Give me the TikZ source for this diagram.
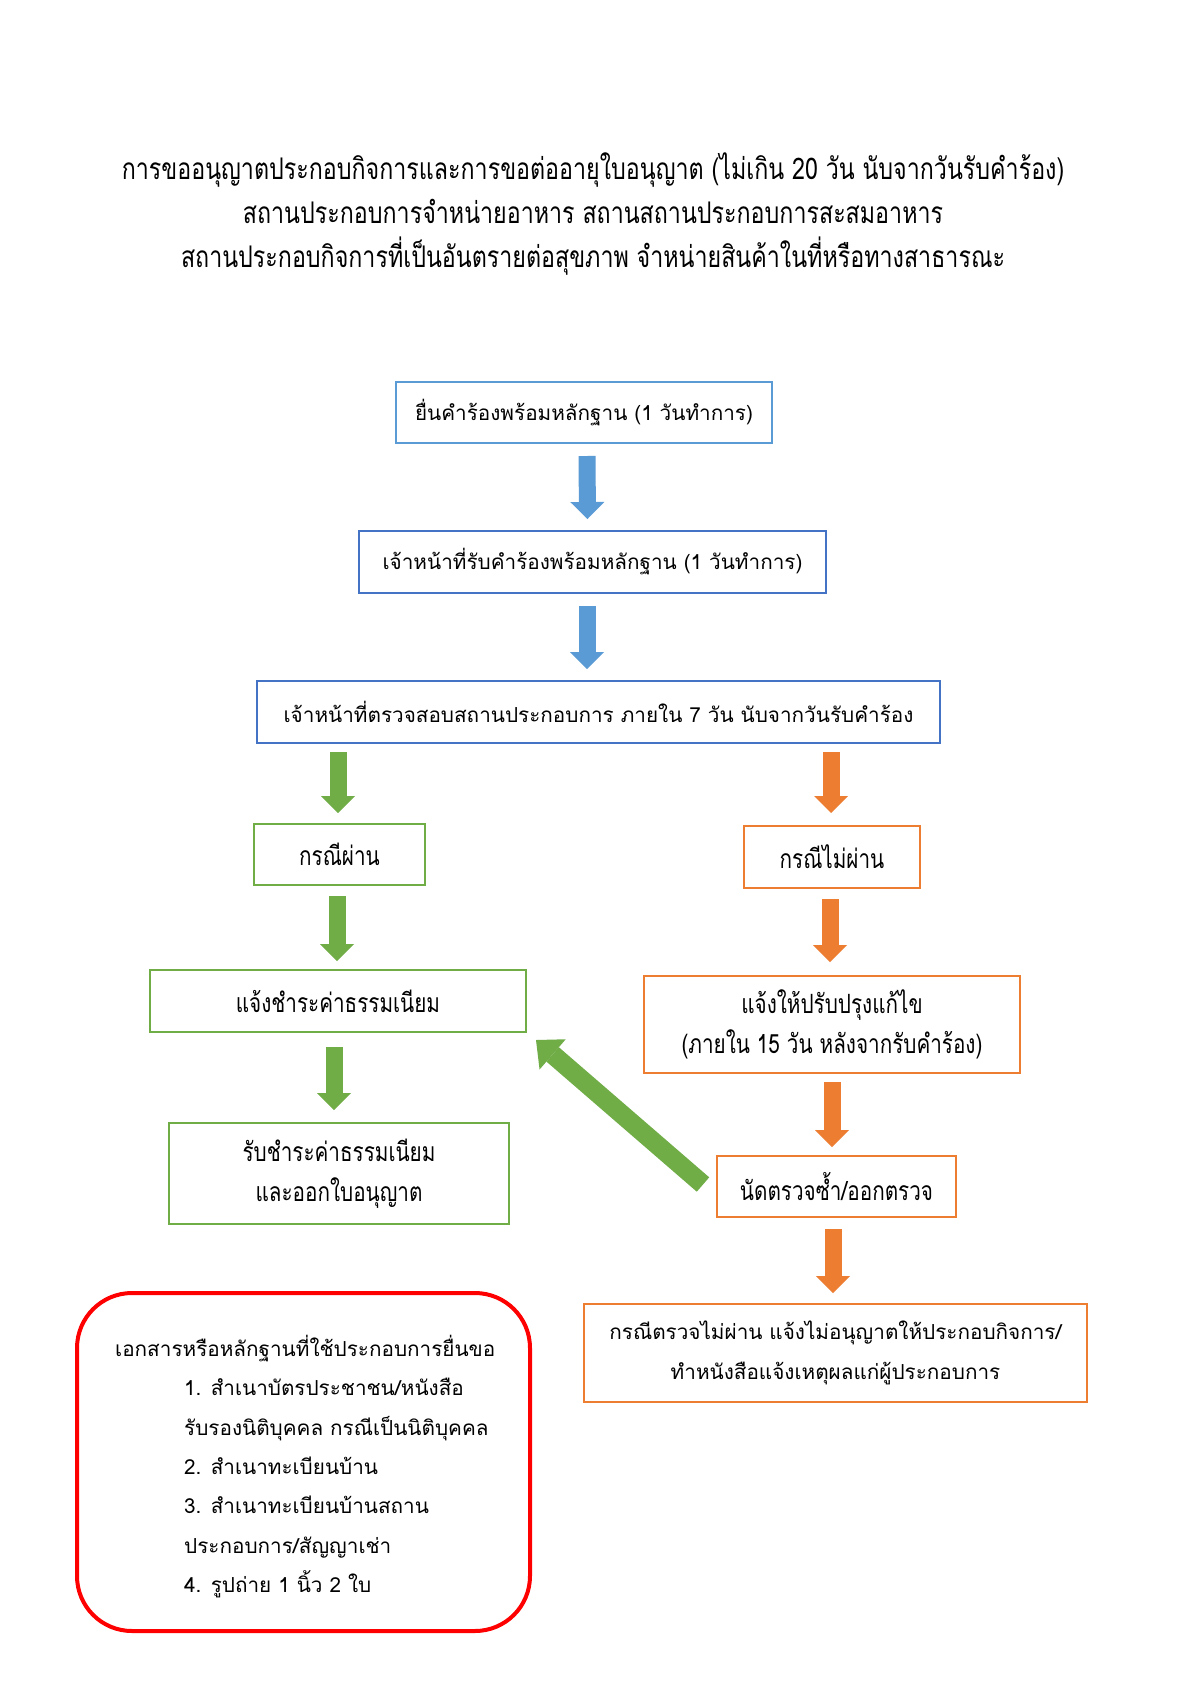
\documentclass[tikz,border=0pt]{standalone}
\usepackage{fontspec}
\usetikzlibrary{calc,arrows.meta}
\newfontfamily\thw[Script=Thai]{Loma}
\newfontfamily\thn[Script=Thai,FakeStretch=0.78]{Loma}
\definecolor{bxblueL}{HTML}{5B9BD5}
\definecolor{bxblue}{HTML}{4472C4}
\definecolor{bxgreen}{HTML}{70AD47}
\definecolor{bxorange}{HTML}{ED7D31}
\definecolor{bxred}{HTML}{FF0000}
\tikzset{
  box/.style={draw=#1, line width=2pt, inner sep=0pt, align=center, text=black},
  wfont/.style={font=\thw\fontsize{20.7}{40}\selectfont},
  nfont/.style={font=\thn\fontsize{26.5}{40}\selectfont},
  barrow/.style={line width=17pt, draw=#1, line cap=butt,
     -{Triangle[length=17pt,width=34pt,line width=0pt]}},
  bigarrow/.style={line width=19pt, draw=#1, line cap=butt,
     -{Triangle[length=22pt,width=40pt,line width=0pt]}}
}
\begin{document}
\begin{tikzpicture}[x=1pt,y=-1pt]
\useasboundingbox[fill=white] (0,0) rectangle (1200,1697);
% title
\node[font=\thn\fontsize{29.8}{44}\selectfont, align=center] (title) at (593,214)
 {การขออนุญาตประกอบกิจการและการขอต่ออายุใบอนุญาต (ไม่เกิน 20 วัน นับจากวันรับคำร้อง)\\
  สถานประกอบการจำหน่ายอาหาร สถานสถานประกอบการสะสมอาหาร\\
  สถานประกอบกิจการที่เป็นอันตรายต่อสุขภาพ จำหน่ายสินค้าในที่หรือทางสาธารณะ};
% boxes
\node[box=bxblueL, wfont, minimum width=376pt, minimum height=61pt] (b1) at (584,412.5)
 {ยื่นคำร้องพร้อมหลักฐาน (1 วันทำการ)};
\node[box=bxblue, wfont, minimum width=467pt, minimum height=62pt] (b2) at (592.5,562)
 {เจ้าหน้าที่รับคำร้องพร้อมหลักฐาน (1 วันทำการ)};
\node[box=bxblue, wfont, minimum width=683pt, minimum height=62pt] (b3) at (598.5,712)
 {เจ้าหน้าที่ตรวจสอบสถานประกอบการ ภายใน 7 วัน นับจากวันรับคำร้อง};
\node[box=bxgreen, nfont, minimum width=171pt, minimum height=61pt] (b4) at (339.5,854.5)
 {กรณีผ่าน};
\node[box=bxorange, nfont, minimum width=176pt, minimum height=62pt] (b5) at (832,857)
 {กรณีไม่ผ่าน};
\node[box=bxgreen, nfont, minimum width=376pt, minimum height=62pt] (b6) at (338,1001)
 {แจ้งชำระค่าธรรมเนียม};
\node[box=bxorange, nfont, minimum width=376pt, minimum height=97pt] (b7) at (832,1024.5)
 {แจ้งให้ปรับปรุงแก้ไข\\(ภายใน 15 วัน หลังจากรับคำร้อง)};
\node[box=bxgreen, nfont, minimum width=340pt, minimum height=101pt] (b8) at (339,1173.5)
 {รับชำระค่าธรรมเนียม\\และออกใบอนุญาต};
\node[box=bxorange, nfont, minimum width=239pt, minimum height=61pt] (b9) at (836.5,1186.5)
 {นัดตรวจซ้ำ/ออกตรวจ};
\node[box=bxorange, wfont, minimum width=503pt, minimum height=98pt] (b10) at (835.5,1353)
 {กรณีตรวจไม่ผ่าน แจ้งไม่อนุญาตให้ประกอบกิจการ/\\ทำหนังสือแจ้งเหตุผลแก่ผู้ประกอบการ};
% documents box
\node[draw=bxred, line width=4pt, rounded corners=55pt, minimum width=453pt, minimum height=338pt,
      inner sep=0pt] (docs) at (303.5,1462) {};
\node[font=\thw\fontsize{20.7}{39.3}\selectfont, align=left, anchor=north west, inner sep=0pt] (doctext) at (115,1335)
 {เอกสารหรือหลักฐานที่ใช้ประกอบการยื่นขอ\\
  \hspace*{69pt}1. สำเนาบัตรประชาชน/หนังสือ\\
  \hspace*{69pt}รับรองนิติบุคคล กรณีเป็นนิติบุคคล\\
  \hspace*{69pt}2. สำเนาทะเบียนบ้าน\\
  \hspace*{69pt}3. สำเนาทะเบียนบ้านสถาน\\
  \hspace*{69pt}ประกอบการ/สัญญาเช่า\\
  \hspace*{69pt}4. รูปถ่าย 1 นิ้ว 2 ใบ};
% arrows
\draw[barrow=bxblueL] ($(b1.south)+(3,12)$) -- ($(b2.north)+(-5,-11)$);
\draw[barrow=bxblueL] ($(b2.south)+(-5.5,12)$) -- ($(b3.north)+(-11.5,-11)$);
\draw[barrow=bxgreen] ($(b3.south -| b4.north)+(-1.5,8)$) -- ($(b4.north)+(-1.5,-10)$);
\draw[barrow=bxorange] ($(b3.south -| b5.north)+(-1,8)$) -- ($(b5.north)+(-1,-12)$);
\draw[barrow=bxgreen] ($(b4.south)+(-2.5,10)$) -- ($(b4.south)+(-2.5,75)$);
\draw[barrow=bxorange] ($(b5.south)+(-2,10)$) -- ($(b7.north)+(-2,-13)$);
\draw[barrow=bxgreen] ($(b6.south)+(-4,14)$) -- ($(b8.north)+(-5,-12)$);
\draw[barrow=bxorange] ($(b7.south)+(0,8)$) -- ($(b7.south)+(0,73)$);
\draw[barrow=bxorange] ($(b9.south)+(-3.5,11)$) -- ($(b9.south)+(-3.5,75)$);
\draw[bigarrow=bxgreen] ($(b9.west)+(-13,-2)$) -- ($(b6.south east)+(9,7)$);
\end{tikzpicture}
\end{document}
